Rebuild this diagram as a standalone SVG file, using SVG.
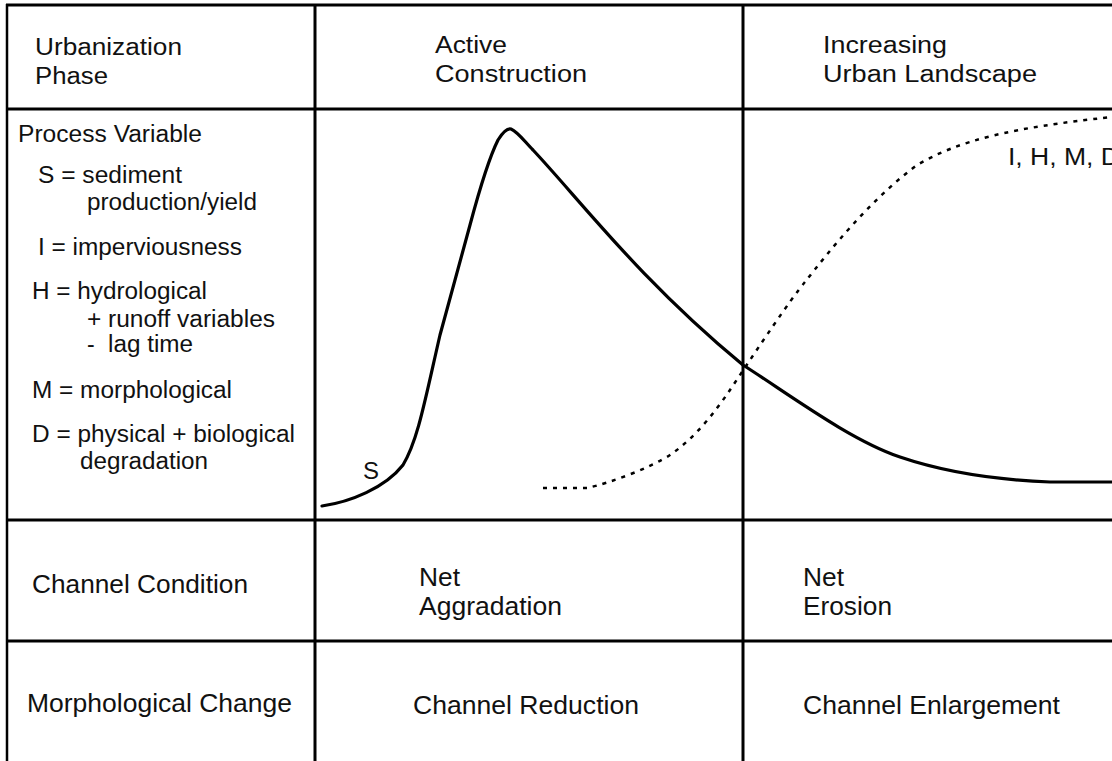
<svg xmlns="http://www.w3.org/2000/svg" width="1112" height="761" viewBox="0 0 1112 761">
  <style>
    .t { font-family: "Liberation Sans", Arial, Helvetica, sans-serif; fill: #111; }
    .h { font-size: 23px; }
    .b { font-size: 25px; }
    .grid { stroke: #000; stroke-width: 3; fill: none; }
    .solid { stroke: #000; stroke-width: 3.2; fill: none; stroke-linejoin: round; stroke-linecap: round; }
    .dots { stroke: #000; stroke-width: 2.5; fill: none; stroke-dasharray: 4 6; }
  </style>
  <rect x="0" y="0" width="1112" height="761" fill="#fff"/>

  <g id="grid">
    <line class="grid" x1="6" y1="5" x2="1112" y2="5"/>
    <line class="grid" x1="6" y1="109" x2="1112" y2="109"/>
    <line class="grid" x1="6" y1="520" x2="1112" y2="520"/>
    <line class="grid" x1="6" y1="641" x2="1112" y2="641"/>
    <line class="grid" x1="7" y1="4" x2="7" y2="761" style="stroke-width:2.5"/>
    <line class="grid" x1="315" y1="4" x2="315" y2="761"/>
    <line class="grid" x1="743" y1="4" x2="743" y2="761"/>
  </g>

  <g id="header-urbanization-phase">
    <text class="t h" x="35" y="55" textLength="147" lengthAdjust="spacingAndGlyphs">Urbanization</text>
    <text class="t h" x="35" y="84" textLength="73" lengthAdjust="spacingAndGlyphs">Phase</text>
  </g>
  <g id="header-active-construction">
    <text class="t h" x="435" y="53" textLength="72" lengthAdjust="spacingAndGlyphs">Active</text>
    <text class="t h" x="435" y="82" textLength="152" lengthAdjust="spacingAndGlyphs">Construction</text>
  </g>
  <g id="header-urban-landscape">
    <text class="t h" x="823" y="53" textLength="124" lengthAdjust="spacingAndGlyphs">Increasing</text>
    <text class="t h" x="823" y="82" textLength="214" lengthAdjust="spacingAndGlyphs">Urban Landscape</text>
  </g>

  <g id="process-variables">
    <text class="t h" x="18" y="142" textLength="184" lengthAdjust="spacingAndGlyphs">Process Variable</text>
    <text class="t h" x="38" y="183" textLength="144" lengthAdjust="spacingAndGlyphs">S = sediment</text>
    <text class="t h" x="87" y="210" textLength="170" lengthAdjust="spacingAndGlyphs">production/yield</text>
    <text class="t h" x="38" y="255" textLength="204" lengthAdjust="spacingAndGlyphs">I = imperviousness</text>
    <text class="t h" x="32" y="299" textLength="175" lengthAdjust="spacingAndGlyphs">H = hydrological</text>
    <text class="t h" x="87" y="327" textLength="188" lengthAdjust="spacingAndGlyphs">+ runoff variables</text>
    <text class="t h" x="87" y="352">-</text>
    <text class="t h" x="108" y="352" textLength="85" lengthAdjust="spacingAndGlyphs">lag time</text>
    <text class="t h" x="32" y="398" textLength="200" lengthAdjust="spacingAndGlyphs">M = morphological</text>
    <text class="t h" x="32" y="442" textLength="263" lengthAdjust="spacingAndGlyphs">D = physical + biological</text>
    <text class="t h" x="80" y="469" textLength="128" lengthAdjust="spacingAndGlyphs">degradation</text>
  </g>

  <g id="curves">
    <path id="curve-S" class="solid" d="M322,506 C350,502 385,488 403,465 C418,440 425,400 440,335 L470,225 C478,195 488,160 498,140 C503,132 507,128 511,129 C518,132 525,142 533,150 C580,200 640,280 743,365 C790,395 850,440 900,457 C950,474 1000,480 1050,482 L1112,482"/>
    <path id="curve-IHMD" class="dots" d="M543,488 L587,488 C610,483 650,468 670,455 C695,438 715,412 730,390 C760,345 790,300 805,282 C830,250 870,200 917,165 C960,140 1010,128 1112,117"/>
    <text class="t h" x="363" y="479" textLength="16" lengthAdjust="spacingAndGlyphs">S</text>
    <text class="t h" x="1008" y="165" textLength="112" lengthAdjust="spacingAndGlyphs">I, H, M, D</text>
  </g>

  <g id="channel-condition">
    <text class="t b" x="32" y="593" textLength="216" lengthAdjust="spacingAndGlyphs">Channel Condition</text>
    <text class="t b" x="419" y="586" textLength="41" lengthAdjust="spacingAndGlyphs">Net</text>
    <text class="t b" x="419" y="615" textLength="143" lengthAdjust="spacingAndGlyphs">Aggradation</text>
    <text class="t b" x="803" y="586" textLength="41" lengthAdjust="spacingAndGlyphs">Net</text>
    <text class="t b" x="803" y="615" textLength="89" lengthAdjust="spacingAndGlyphs">Erosion</text>
  </g>

  <g id="morphological-change">
    <text class="t b" x="27" y="712" textLength="265" lengthAdjust="spacingAndGlyphs">Morphological Change</text>
    <text class="t b" x="413" y="714" textLength="226" lengthAdjust="spacingAndGlyphs">Channel Reduction</text>
    <text class="t b" x="803" y="714" textLength="257" lengthAdjust="spacingAndGlyphs">Channel Enlargement</text>
  </g>
</svg>
